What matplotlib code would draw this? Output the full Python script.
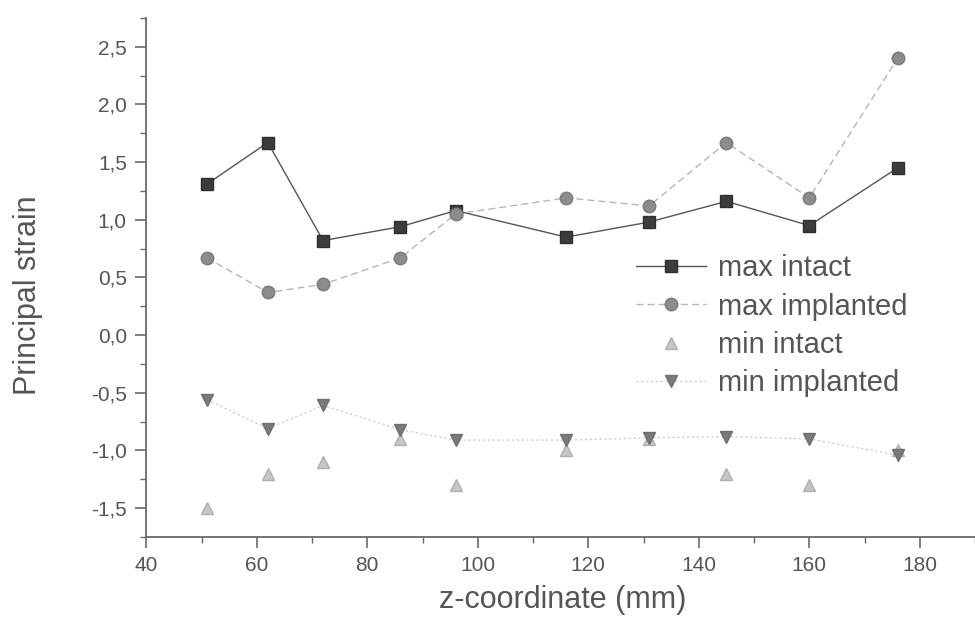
import numpy as np
import matplotlib
matplotlib.use("Agg")
import matplotlib.pyplot as plt
from matplotlib.ticker import MultipleLocator, FuncFormatter

# z positions of the strain gauges (mm)
z_mm = [51, 62, 72, 86, 96, 116, 131, 145, 160, 176]

max_intact = [1.31, 1.67, 0.82, 0.94, 1.08, 0.85, 0.98, 1.16, 0.95, 1.45]
max_implanted = [0.67, 0.37, 0.44, 0.67, 1.05, 1.19, 1.12, 1.67, 1.19, 2.40]
min_intact = [-1.50, -1.20, -1.10, -0.90, -1.30, -1.00, -0.90, -1.20, -1.30, -1.00]
min_implanted = [-0.56, -0.81, -0.61, -0.82, -0.91, -0.91, -0.89, -0.88, -0.90, -1.04]

series_labels = ["max intact", "max implanted", "min intact", "min implanted"]

plt.rcParams['font.family'] = ['Liberation Sans', 'DejaVu Sans']

fig = plt.figure(figsize=(9.75, 6.19), dpi=100)
ax = fig.add_axes([0.150, 0.1325, 0.85, 0.8385])

axis_col = "#6a6a6a"
text_col = "#555555"

ax.plot(z_mm, max_intact, color="#555555", lw=1.0, ls="-",
        marker="s", ms=9, mfc="#3c3c3c", mec="#2e2e2e",
        label=series_labels[0])
ax.plot(z_mm, max_implanted, color="#b5b5b5", lw=1.0, ls=(0, (5, 3)),
        marker="o", ms=9, mfc="#8c8c8c", mec="#7a7a7a",
        label=series_labels[1])
ax.plot(z_mm, min_intact, color="#e0e0e0", lw=0.0, ls="none",
        marker="^", ms=8, mfc="#c6c6c6", mec="#b0b0b0",
        label=series_labels[2])
ax.plot(z_mm, min_implanted, color="#cccccc", lw=1.0, ls=(0, (1.5, 2)),
        marker="v", ms=9, mfc="#7a7a7a", mec="#6e6e6e",
        label=series_labels[3])

ax.set_xlim(40, 190)
ax.set_ylim(-1.75, 2.75)

ax.xaxis.set_major_locator(MultipleLocator(20))
ax.xaxis.set_minor_locator(MultipleLocator(10))
ax.yaxis.set_major_locator(MultipleLocator(0.5))
ax.yaxis.set_minor_locator(MultipleLocator(0.25))
ax.yaxis.set_major_formatter(FuncFormatter(lambda v, p: f"{v:.1f}".replace(".", ",")))

for side in ["top", "right"]:
    ax.spines[side].set_visible(False)
for side in ["left", "bottom"]:
    ax.spines[side].set_color(axis_col)
    ax.spines[side].set_linewidth(1.3)

ax.tick_params(which="major", direction="out", length=8, width=1.2,
               color=axis_col, labelcolor=text_col, labelsize=15, pad=6)
ax.tick_params(which="minor", direction="out", length=4, width=1.0,
               color=axis_col)

ax.set_xlabel("z-coordinate (mm)", fontsize=22, color=text_col)
ax.set_ylabel("Principal strain", fontsize=22, color=text_col)
ax.xaxis.set_label_coords(0.502, -0.092)
ax.yaxis.set_label_coords(-0.125, 0.466)

leg = ax.legend(loc="upper left", bbox_to_anchor=(0.577, 0.567),
                frameon=False, fontsize=21, handlelength=2.4,
                handletextpad=0.4, labelspacing=0.35, borderaxespad=0)
for t in leg.get_texts():
    t.set_color(text_col)

fig.savefig("out.png", dpi=100)
